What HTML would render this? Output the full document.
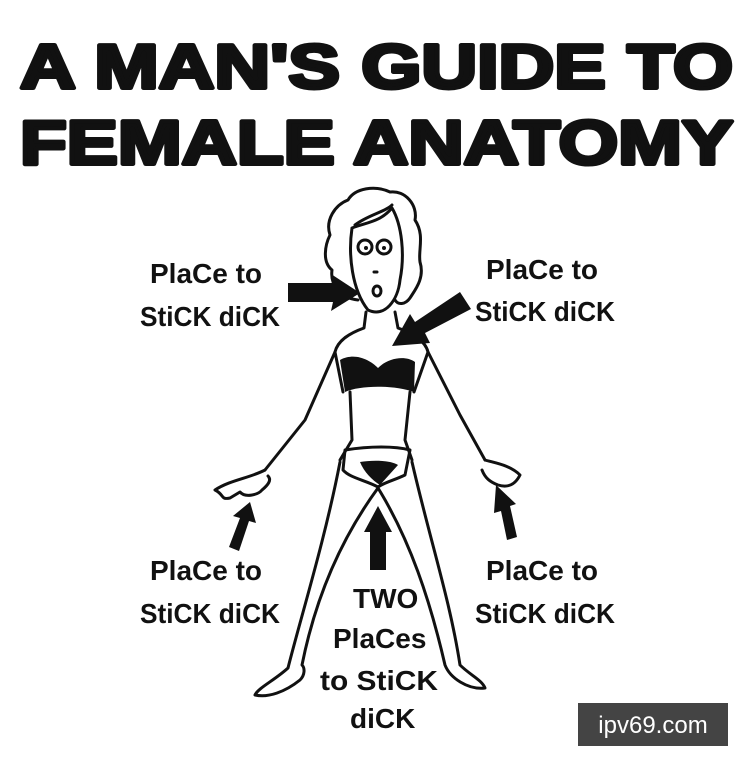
<!DOCTYPE html>
<html><head><style>
html,body{margin:0;padding:0;background:#fff}
svg{display:block}
.t{font-family:"Liberation Sans",sans-serif;font-weight:900;fill:#111;stroke:#111;stroke-width:4;stroke-linejoin:round}
.l{font-family:"Liberation Sans",sans-serif;font-weight:700;font-size:28px;fill:#111}
.o{fill:none;stroke:#111;stroke-width:3;stroke-linecap:round;stroke-linejoin:round}
</style></head><body>
<svg width="749" height="768" viewBox="0 0 749 768" xmlns="http://www.w3.org/2000/svg">
<rect width="749" height="768" fill="#fff"/>
<text class="t" x="20" y="88" font-size="62" textLength="713" lengthAdjust="spacingAndGlyphs">A MAN'S GUIDE TO</text>
<text class="t" x="20" y="164" font-size="62" textLength="713" lengthAdjust="spacingAndGlyphs">FEMALE ANATOMY</text>

<!-- hair -->
<path class="o" d="M358,300 C340,298 330,285 332,270 C322,262 325,245 330,235 C325,220 335,205 348,200 C355,188 375,185 390,192 C405,190 418,205 415,220 C425,235 418,250 420,262 C425,278 415,290 410,298 C405,305 398,305 395,300" fill="#fff"/>
<path class="o" d="M355,225 C368,215 385,212 392,205"/>
<!-- face -->
<path class="o" fill="#fff" d="M352,228 C348,255 352,290 368,310 C385,318 398,300 400,280 C405,255 402,225 392,208 C380,222 368,222 352,228"/>
<circle class="o" cx="365" cy="247" r="7"/><circle class="o" cx="384" cy="247" r="7"/>
<circle cx="366" cy="248" r="2" fill="#111"/><circle cx="384" cy="248" r="2" fill="#111"/>
<path class="o" d="M374,272 l3,0"/>
<ellipse class="o" cx="377" cy="291" rx="4" ry="5"/>
<!-- body -->
<path class="o" d="M366,312 L364,328 C350,333 338,340 335,352 L305,420 L265,470 M395,312 L398,328 C412,333 425,340 428,352 L460,415 L485,460"/>
<path class="o" d="M335,352 L343,392 M428,352 L414,392"/>
<path d="M340,360 C355,352 370,360 378,368 C388,358 405,355 415,362 L414,392 C395,385 360,385 345,392 Z" fill="#111"/>
<path class="o" d="M350,392 L352,440 L340,460 M410,392 L405,440 L412,460"/>
<path class="o" d="M345,450 C370,446 395,446 410,450 L405,475 C395,480 385,482 378,487 C365,480 350,478 343,470 Z"/>
<path d="M360,462 C372,460 390,460 398,465 L380,485 C372,480 364,472 360,462Z" fill="#111"/>
<!-- hands -->
<path class="o" d="M265,470 C250,478 230,480 215,490 C225,495 220,500 230,498 L240,492 C245,498 258,495 262,490 C268,485 272,480 268,476"/>
<path class="o" d="M485,460 C495,463 510,465 520,475 C515,485 508,488 498,485 C490,482 485,478 482,470"/>
<!-- legs -->
<path class="o" d="M340,462 C325,540 300,620 288,668 C275,680 258,688 255,695 C268,698 285,692 300,680 C305,675 305,668 302,665 C315,600 340,540 378,488"/>
<path class="o" d="M378,488 C410,540 430,600 445,665 C450,678 468,690 485,688 C482,680 470,675 460,665 C450,600 430,540 412,462"/>

<!-- arrows -->
<path d="M288,283 L333,283 L331,274 L360,293 L331,311 L333,302 L288,302 Z" fill="#111"/>
<path d="M460,292 L471,309 L425,333 L430,343 L392,346 L410,314 L415,322 Z" fill="#111"/>
<path d="M229,547 L240,518 L233,516 L250,502 L256,523 L249,521 L239,551 Z" fill="#111"/>
<path d="M370,570 L370,532 L364,532 L378,506 L392,532 L386,532 L386,570 Z" fill="#111"/>
<path d="M507,540 L501,511 L494,513 L496,485 L516,504 L510,506 L517,537 Z" fill="#111"/>

<!-- labels -->
<text class="l" x="150" y="283">PlaCe to</text>
<text class="l" x="140" y="326" textLength="140" lengthAdjust="spacingAndGlyphs">StiCK diCK</text>
<text class="l" x="486" y="279">PlaCe to</text>
<text class="l" x="475" y="321" textLength="140" lengthAdjust="spacingAndGlyphs">StiCK diCK</text>
<text class="l" x="150" y="580">PlaCe to</text>
<text class="l" x="140" y="623" textLength="140" lengthAdjust="spacingAndGlyphs">StiCK diCK</text>
<text class="l" x="486" y="580">PlaCe to</text>
<text class="l" x="475" y="623" textLength="140" lengthAdjust="spacingAndGlyphs">StiCK diCK</text>
<text class="l" x="353" y="608">TWO</text>
<text class="l" x="333" y="648">PlaCes</text>
<text class="l" x="320" y="690" textLength="118" lengthAdjust="spacingAndGlyphs">to StiCK</text>
<text class="l" x="350" y="728">diCK</text>

<rect x="578" y="703" width="150" height="43" fill="#444"/>
<text x="653" y="733" text-anchor="middle" font-family="Liberation Sans,sans-serif" font-size="24" fill="#fff">ipv69.com</text>
</svg>
</body></html>
